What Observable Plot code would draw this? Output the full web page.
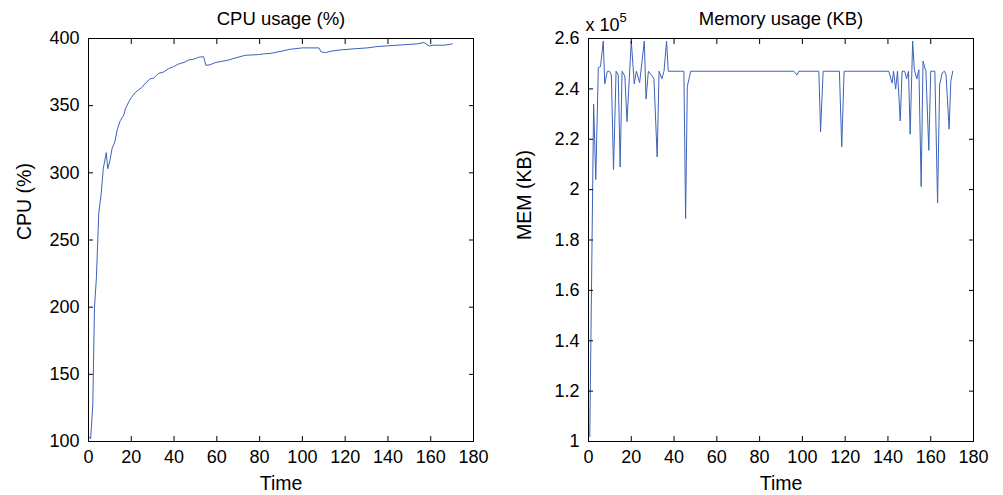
<!DOCTYPE html>
<html>
<head>
<meta charset="utf-8">
<script src="https://cdn.jsdelivr.net/npm/d3@7"></script>
<script src="https://cdn.jsdelivr.net/npm/@observablehq/plot@0.6"></script>
<style>
  html, body { margin: 0; padding: 0; background: #fff; }
  #wrap { display: flex; flex-direction: row; width: 1003px; height: 495px; overflow: hidden; }
  svg { display: block; }
</style>
</head>
<body>
<div id="wrap"></div>
<script>
// ---- data ----
const xTicks = [0, 20, 40, 60, 80, 100, 120, 140, 160, 180];
const cpuTicks = [100, 150, 200, 250, 300, 350, 400];
const memTicks = [100000, 120000, 140000, 160000, 180000, 200000, 220000, 240000, 260000];

const cpuTime = [0, 1, 2, 2.8, 3.7, 4.8, 5.9, 6.9, 8.3, 9, 10, 11, 12.3, 13.4, 14.9, 16.5, 17.3, 18.9, 20, 22, 24.9, 26.8, 28.8, 30.4, 32.7, 35, 37.4, 39.7, 42.1, 45.2, 46.8, 49.1, 51.4, 53.8, 54.9, 56.9, 59.2, 62.3, 65.5, 68.6, 73.3, 79.5, 81.8, 85.5, 90, 94.4, 99.9, 107.7, 108.8, 110.8, 113.2, 117.9, 125.6, 130.3, 135, 139.6, 144.3, 149, 153.7, 156.8, 159.2, 161.5, 166.2, 170.1];
const cpuValue = [104, 102, 127, 200, 222, 270, 284, 303, 315, 303, 309, 318, 323, 332, 339, 343, 348, 353, 356, 360, 363.5, 367, 370, 370.5, 374, 375, 377.5, 379, 381, 382.5, 384, 384.5, 386, 386.5, 380, 380.5, 382, 383, 384, 385.5, 387.5, 388, 388.5, 389, 390.5, 392, 393, 393, 390, 389.5, 390.5, 391.5, 392.5, 393, 394, 394.5, 395, 395.5, 396, 397, 394.5, 395, 395, 396];

const memTime = [0.6, 2.4, 3.4, 4.6, 5.6, 6.9, 7.6, 8.8, 9.8, 10.7, 11.7, 12.9, 13.9, 14.8, 15.7, 17, 18, 20, 21.4, 22.4, 23.9, 26.1, 26.9, 28, 29.9, 30.6, 32.1, 33, 34.3, 35.3, 36.5, 37.3, 44.6, 45.4, 46.2, 47.8, 96, 97.5, 98.3, 107.7, 108.5, 109.7, 117.3, 118.4, 119.5, 140.4, 141.95, 142.63, 143.6, 144.47, 145.74, 146.61, 147.87, 148.74, 149.62, 150.39, 151.56, 152.33, 153.5, 154.47, 155.53, 156.41, 157.38, 157.76, 159.1, 160, 161.93, 163.2, 164.17, 165.33, 166.4, 167.17, 168.6, 169.4, 170.3];
const memValue = [102000, 234000, 204000, 248500, 248800, 259000, 242000, 247000, 247000, 245500, 208000, 247000, 245500, 209000, 247000, 245000, 227000, 259000, 242000, 247000, 242500, 259000, 236000, 247000, 245000, 244000, 213000, 247000, 244000, 247000, 259000, 247000, 247000, 188500, 241000, 247000, 247000, 245500, 247000, 247000, 223000, 247000, 247000, 217000, 247000, 247000, 242300, 247000, 239900, 247000, 227300, 247000, 247000, 244000, 247000, 222000, 259000, 247600, 244000, 247600, 201200, 251000, 248000, 247000, 215600, 247000, 247000, 194700, 241600, 246300, 247000, 245600, 224000, 243000, 247000];

const lineColor = "#3d63b9";
const font = "'Liberation Sans', Arial, Helvetica, sans-serif";

function panel({time, value, yDomain, yTicks, yFormat, title, ylabel, width, ml, mr, extra = []}) {
  const rows = time.map((t, i) => ({t, v: value[i]}));
  return Plot.plot({
    width, height: 495,
    marginLeft: ml, marginRight: mr, marginTop: 38, marginBottom: 54,
    style: {fontFamily: font, fontSize: "18px", color: "#000", background: "#fff", overflow: "visible"},
    x: {domain: [0, 180]},
    y: {domain: yDomain},
    marks: [
      Plot.line(rows, {x: "t", y: "v", stroke: lineColor, strokeWidth: 1}),
      Plot.frame({stroke: "#000", strokeWidth: 1}),
      Plot.axisX(xTicks, {anchor: "bottom", tickSize: -5, tickPadding: 14, fontSize: 18, label: null}),
      Plot.axisX(xTicks, {anchor: "top", tickSize: -5, fill: "none", label: null}),
      Plot.axisY(yTicks, {anchor: "left", tickSize: -5, tickPadding: 14, fontSize: 18, tickFormat: yFormat, label: null}),
      Plot.axisY(yTicks, {anchor: "right", tickSize: -5, fill: "none", label: null}),
      Plot.text([title], {frameAnchor: "top", lineAnchor: "middle", dy: -19, fontSize: 18.5, fill: "#000"}),
      Plot.text(["Time"], {frameAnchor: "bottom", lineAnchor: "middle", dy: 42, fontSize: 19.5, fill: "#000"}),
      Plot.text([ylabel], {frameAnchor: "left", lineAnchor: "middle", rotate: -90, dx: -64, fontSize: 19.5, fill: "#000"}),
      ...extra
    ]
  });
}

const wrap = document.getElementById("wrap");

wrap.appendChild(panel({
  time: cpuTime, value: cpuValue,
  yDomain: [100, 400], yTicks: cpuTicks, yFormat: d => String(d),
  title: "CPU usage (%)", ylabel: "CPU (%)",
  width: 501, ml: 88, mr: 28
}));

wrap.appendChild(panel({
  time: memTime, value: memValue,
  yDomain: [100000, 260000], yTicks: memTicks, yFormat: d => String(+(d / 1e5).toFixed(1)),
  title: "Memory usage (KB)", ylabel: "MEM (KB)",
  width: 502, ml: 87, mr: 30,
  extra: [
    Plot.text(["x 10"], {frameAnchor: "top-left", lineAnchor: "middle", textAnchor: "start", dx: -3, dy: -13, fontSize: 18, fill: "#000"}),
    Plot.text(["5"], {frameAnchor: "top-left", lineAnchor: "middle", textAnchor: "start", dx: 31, dy: -21, fontSize: 13, fill: "#000"})
  ]
}));
</script>
</body>
</html>
